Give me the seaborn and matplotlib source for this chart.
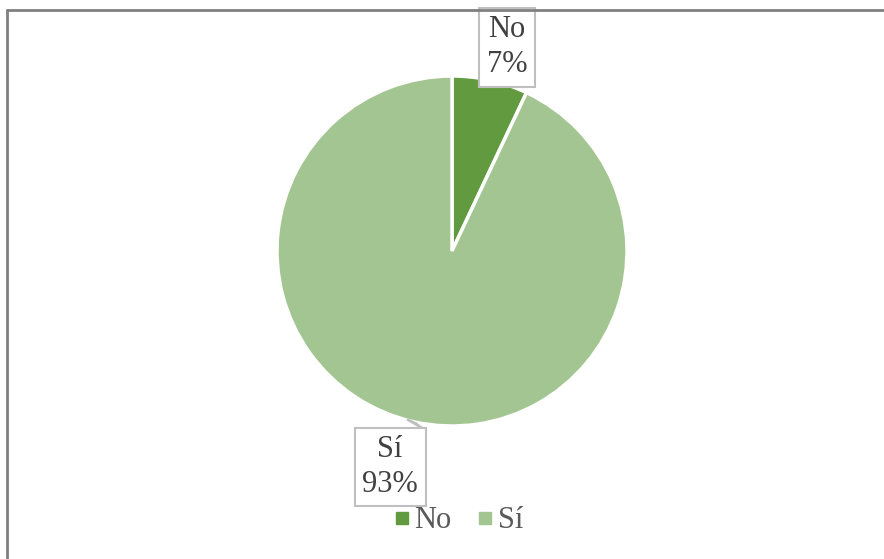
import matplotlib
matplotlib.use("Agg")
import matplotlib.pyplot as plt
from matplotlib.lines import Line2D
import seaborn as sns

# data
labels = ["No", "Sí"]
values = [7, 93]
colors = ["#629B3F", "#A3C591"]

sns.set_theme(style="white")
plt.rcParams["font.family"] = ["Liberation Serif", "DejaVu Serif"]

fig = plt.figure(figsize=(8.84, 5.59), dpi=100)
ax = fig.add_axes([277 / 884, 1 - 426 / 559, 350 / 884, 350 / 559])

wedges, _ = ax.pie(values, colors=colors, startangle=90, counterclock=False,
                   wedgeprops=dict(edgecolor="white", linewidth=2.5), radius=1)
ax.set_xlim(-1, 1)
ax.set_ylim(-1, 1)
ax.set_aspect("equal")

box = dict(boxstyle="square,pad=0.25", fc="white", ec="#BFBFBF", lw=1.5)
txt_color = "#404040"
tot = sum(values)

# "No" label above the small wedge
ax.annotate(f"{labels[0]}\n{round(values[0] / tot * 100)}%", xy=(0.314, 1.165),
            ha="center", va="center", fontsize=22, color=txt_color,
            bbox=box, linespacing=1.25, annotation_clip=False)

# "Sí" label with callout
ax.annotate(f"{labels[1]}\n{round(values[1] / tot * 100)}%", xy=(-0.205, -0.985),
            xytext=(-0.354, -1.234), ha="center", va="center", fontsize=22,
            color=txt_color, bbox=box, linespacing=1.25, annotation_clip=False,
            arrowprops=dict(arrowstyle="wedge,tail_width=0.6,shrink_factor=0.6",
                            fc="white", ec="#BFBFBF", lw=1.5))

handles = [Line2D([0], [0], marker="s", color="none", markerfacecolor=c,
                  markeredgecolor=c, markersize=8) for c in colors]
fig.legend(handles, labels, loc="center", bbox_to_anchor=(458 / 884, 1 - 521 / 559),
           ncol=2, frameon=False, fontsize=22, handlelength=0.6, handletextpad=0.1,
           columnspacing=0.8, labelcolor="#595959")

# outer frame lines (top and left)
fig.add_artist(Line2D([7 / 884, 1], [1 - 10 / 559, 1 - 10 / 559], color="#808080", lw=2))
fig.add_artist(Line2D([7 / 884, 7 / 884], [0, 1 - 10 / 559], color="#808080", lw=2))

fig.savefig("out.png", dpi=100)
